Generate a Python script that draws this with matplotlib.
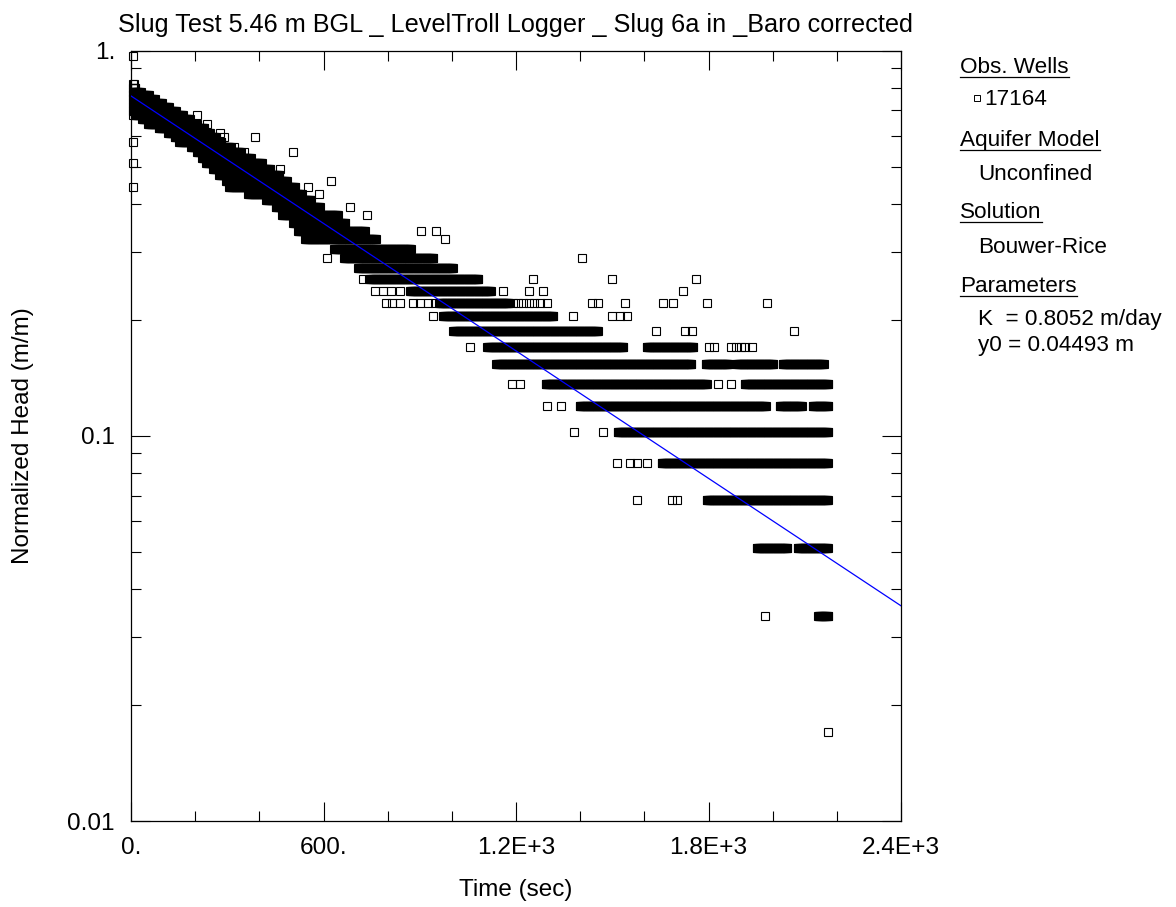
import numpy as np
import matplotlib
matplotlib.use("Agg")
import matplotlib.pyplot as plt
from matplotlib.lines import Line2D
from matplotlib.ticker import FixedLocator, FixedFormatter, NullFormatter

plt.rcParams['font.family'] = ['Liberation Sans', 'DejaVu Sans']

# logger step inside the dense stretches (sec)
DT = 2.0

# dense stretches of readings: normalized head, first and last time (sec)
run_head = [0.8174, 0.8004, 0.7834, 0.7664, 0.7493, 0.7323, 0.7153, 0.6982,
            0.6812, 0.6642, 0.6471, 0.6301, 0.6131, 0.5961, 0.5790, 0.5620,
            0.5450, 0.5279, 0.5109, 0.4939, 0.4768, 0.4598, 0.4428, 0.4258,
            0.4087, 0.3917, 0.3747, 0.3576, 0.3406, 0.3236, 0.3065, 0.2895,
            0.2725, 0.2555, 0.2384, 0.2214, 0.2044, 0.1873, 0.1703, 0.1703,
            0.1533, 0.1533, 0.1533, 0.1533, 0.1362, 0.1362, 0.1192, 0.1192,
            0.1192, 0.1022, 0.0852, 0.0681, 0.0511, 0.0511, 0.0341]
run_t0 = [6, 6, 6, 6, 6, 6, 6, 6,
          12, 34, 53, 86, 116, 136, 151, 187,
          206, 221, 234, 256, 274, 296, 306, 366,
          421, 451, 471, 506, 521, 543, 633, 664,
          708, 743, 870, 960, 974, 1005, 1111, 1607,
          1139, 1791, 1888, 2031, 1292, 1913, 1398, 2022,
          2125, 1517, 1654, 1794, 1950, 2078, 2141]
run_t1 = [9, 15, 31, 56, 75, 97, 118, 140,
          162, 184, 206, 228, 246, 265, 281, 312,
          343, 374, 409, 434, 462, 487, 512, 533,
          562, 590, 646, 668, 730, 764, 874, 942,
          1005, 1083, 1123, 1179, 1317, 1456, 1535, 1754,
          1747, 1863, 2003, 2159, 1794, 2173, 1978, 2091,
          2173, 2173, 2173, 2173, 2047, 2173, 2173]

# single readings away from the dense stretches
pt_head = [0.9707, 0.6812, 0.5790, 0.5109, 0.4428,
           0.6812, 0.6471, 0.6131, 0.5961, 0.5961, 0.5620, 0.5450, 0.5450,
           0.4939, 0.4598, 0.4428, 0.4258, 0.3917, 0.3747, 0.3406, 0.3406,
           0.3236, 0.2895, 0.2895,
           0.2555, 0.2555, 0.2555, 0.2555,
           0.2384, 0.2384, 0.2384, 0.2384, 0.2384, 0.2384, 0.2384, 0.2384,
           0.2214, 0.2214, 0.2214, 0.2214, 0.2214, 0.2214, 0.2214,
           0.2214, 0.2214, 0.2214, 0.2214, 0.2214, 0.2214, 0.2214,
           0.2214, 0.2214, 0.2214, 0.2214, 0.2214, 0.2214, 0.2214,
           0.2044, 0.2044, 0.2044, 0.2044, 0.2044,
           0.1873, 0.1873, 0.1873, 0.1873,
           0.1703, 0.1703, 0.1703, 0.1703, 0.1703, 0.1703, 0.1703, 0.1703,
           0.1362, 0.1362, 0.1362, 0.1362,
           0.1192, 0.1192, 0.1022, 0.1022,
           0.0852, 0.0852, 0.0852, 0.0852,
           0.0681, 0.0681, 0.0681, 0.0341, 0.0170]
pt_time = [6, 6, 6, 6, 6,
           206, 237, 277, 290, 387, 321, 352, 505,
           464, 623, 552, 586, 683, 736, 904, 951,
           979, 611, 1406,
           724, 1253, 1499, 1761,
           761, 786, 810, 838, 1160, 1241, 1284, 1721,
           796, 814, 839, 880, 902, 927, 948,
           1191, 1206, 1221, 1241, 1256, 1276, 1296,
           1437, 1456, 1540, 1658, 1689, 1795, 1982,
           941, 1378, 1499, 1524, 1546,
           1636, 1727, 1749, 2067,
           1057, 1800, 1816, 1870, 1885, 1900, 1915, 1935,
           1188, 1212, 1830, 1870,
           1297, 1340, 1381, 1471,
           1515, 1555, 1577, 1608,
           1577, 1686, 1702, 1976, 2173]

# Bouwer-Rice fitted line
fit_time = [0, 2400]
fit_head = [0.763, 0.0362]

x_ticks = [0, 600, 1200, 1800, 2400]
x_labels = ["0.", "600.", "1.2E+3", "1.8E+3", "2.4E+3"]
y_ticks = [0.01, 0.1, 1.0]
y_labels = ["0.01", "0.1", "1."]

W, H = 1176, 907
fig = plt.figure(figsize=(W / 100, H / 100), dpi=100)
ax = fig.add_axes([131 / W, 1 - 821 / H, 770 / W, 770.3 / H])

t_all, h_all = [], []
for h, a, b in zip(run_head, run_t0, run_t1):
    tt = np.arange(a, b + 0.1, DT)
    t_all.append(tt)
    h_all.append(np.full(tt.size, h))
t_all = np.concatenate(t_all + [np.array(pt_time, float)])
h_all = np.concatenate(h_all + [np.array(pt_head, float)])

ax.plot(t_all, h_all, ls='none', marker='s', ms=5.2, mfc='none',
        mec='black', mew=0.8, clip_on=False, zorder=2)
ax.plot(fit_time, fit_head, color='#0000ff', lw=0.9, zorder=3)

ax.set_yscale('log')
ax.set_xlim(0, 2400)
ax.set_ylim(0.01, 1)

ax.xaxis.set_major_locator(FixedLocator(x_ticks))
ax.xaxis.set_major_formatter(FixedFormatter(x_labels))
ax.xaxis.set_minor_locator(FixedLocator(np.arange(0, 2401, 200)))
ax.yaxis.set_major_locator(FixedLocator(y_ticks))
ax.yaxis.set_major_formatter(FixedFormatter(y_labels))
ax.yaxis.set_minor_locator(FixedLocator([m * d for d in (0.01, 0.1) for m in range(2, 10)]))
ax.yaxis.set_minor_formatter(NullFormatter())

ax.tick_params(which='both', direction='in', top=True, right=True, width=0.8)
ax.tick_params(which='major', length=13.7, labelsize=17.6, pad=11.5)
ax.tick_params(which='minor', length=7.2)
for s in ax.spines.values():
    s.set_linewidth(0.9)

ax.set_title("Slug Test 5.46 m BGL _ LevelTroll Logger _ Slug 6a in _Baro corrected",
             fontsize=18.2, pad=13.7)
ax.set_xlabel("Time (sec)", fontsize=17.5)
ax.set_ylabel("Normalized Head (m/m)", fontsize=17.5)
ax.xaxis.set_label_coords(0.5, -0.075)
ax.yaxis.set_label_coords(-0.126, 0.5)

# side panel
panel = [("Obs. Wells", 960, 73, True),
         ("17164", 984, 105, False),
         ("Aquifer Model", 960, 146, True),
         ("Unconfined", 978, 180, False),
         ("Solution", 960, 218, True),
         ("Bouwer-Rice", 978, 253, False),
         ("Parameters", 960, 292, True),
         ("K  = 0.8052 m/day", 978, 325, False),
         ("y0 = 0.04493 m", 978, 351, False)]
heads = []
for txt, px, py, under in panel:
    t = fig.text(px / W, 1 - py / H, txt, fontsize=16.2, va='baseline', ha='left')
    if under:
        heads.append((t, py))

fig.add_artist(Line2D([977 / W], [1 - 98 / H], marker='s', ms=4, mfc='none',
                      mec='black', mew=0.7, ls='none'))

fig.canvas.draw()
rend = fig.canvas.get_renderer()
for t, py in heads:
    bb = t.get_window_extent(rend)
    yy = 1 - (py + 4) / H
    fig.add_artist(Line2D([bb.x0 / W, bb.x1 / W], [yy, yy], color='black', lw=0.9))

fig.savefig("out.png", dpi=100)
